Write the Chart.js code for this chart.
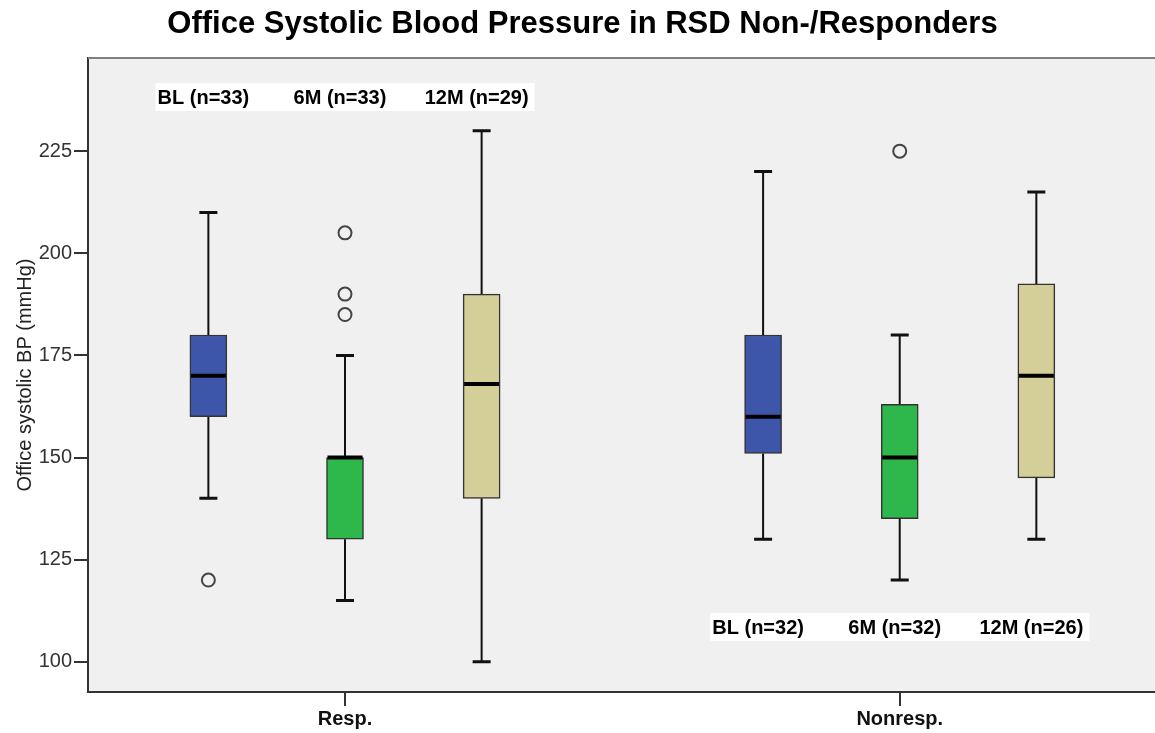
<!DOCTYPE html>
<html>
<head>
<meta charset="utf-8">
<script src="https://cdn.jsdelivr.net/npm/chart.js@4/dist/chart.umd.min.js"></script>
<style>
  body { margin: 0; background: #fff; }
  #wrap { width: 1155px; height: 733px; }
</style>
</head>
<body>
<div id="wrap"><canvas id="bpChart" width="1155" height="733"></canvas></div>
<script>
// groups on the x axis, time points inside each group
const groups = ["Resp.", "Nonresp."];
const times = ["BL", "6M", "12M"];
const groupN = [[33, 33, 29], [32, 32, 26]];

// box statistics, one row per group, one entry per time point
const lowWhisker = [[140, 115, 100], [130, 120, 130]];
const q1 = [[160, 130, 140], [151, 135, 145]];
const median = [[170, 150, 168], [160, 150, 170]];
const q3 = [[180, 150, 190], [180, 163, 192.5]];
const highWhisker = [[210, 175, 230], [220, 180, 215]];
const outliers = [[[120], [185, 190, 205], []], [[], [225], []]];

const yTicks = [100, 125, 150, 175, 200, 225];

const boxColors = ["#3e56aa", "#2eb84b", "#d4cf99"];
const timeOffset = [-0.2463, 0, 0.2463];
const FONT = "Arial, 'Liberation Sans', sans-serif";

function boxX(gi, ti) {
  return gi + timeOffset[ti];
}

const boxDatasets = times.map((t, ti) => ({
  type: "bar",
  label: t,
  data: groups.map((g, gi) => ({ x: boxX(gi, ti), y: [q1[gi][ti], q3[gi][ti]] })),
  backgroundColor: boxColors[ti],
  borderColor: "#333",
  borderWidth: 1.5,
  borderSkipped: false,
  barThickness: 37,
  grouped: false,
  order: 2,
}));

const outlierPoints = [];
groups.forEach((g, gi) => {
  times.forEach((t, ti) => {
    outliers[gi][ti].forEach(v => outlierPoints.push({ x: boxX(gi, ti), y: v }));
  });
});

const outlierDataset = {
  type: "scatter",
  label: "outliers",
  data: outlierPoints,
  pointRadius: 6.5,
  pointBorderWidth: 2,
  pointBorderColor: "#444",
  pointBackgroundColor: "rgba(0,0,0,0)",
  order: 1,
};

const boxPlotPlugin = {
  id: "boxPlot",
  beforeDraw(chart) {
    const { ctx, chartArea: a } = chart;
    ctx.save();
    ctx.fillStyle = "#f0f0f0";
    ctx.fillRect(a.left, a.top, a.right - a.left, a.bottom - a.top);
    ctx.restore();
  },
  beforeDatasetsDraw(chart) {
    const { ctx } = chart;
    const xs = chart.scales.x, ys = chart.scales.y;
    ctx.save();
    ctx.strokeStyle = "#111";
    groups.forEach((g, gi) => {
      times.forEach((t, ti) => {
        const px = xs.getPixelForValue(boxX(gi, ti));
        const yLo = ys.getPixelForValue(lowWhisker[gi][ti]);
        const yHi = ys.getPixelForValue(highWhisker[gi][ti]);
        const yQ1 = ys.getPixelForValue(q1[gi][ti]);
        const yQ3 = ys.getPixelForValue(q3[gi][ti]);
        ctx.lineWidth = 2;
        ctx.beginPath();
        ctx.moveTo(px, yHi); ctx.lineTo(px, yQ3);
        ctx.moveTo(px, yQ1); ctx.lineTo(px, yLo);
        ctx.stroke();
        ctx.lineWidth = 3;
        ctx.beginPath();
        ctx.moveTo(px - 9, yHi); ctx.lineTo(px + 9, yHi);
        ctx.moveTo(px - 9, yLo); ctx.lineTo(px + 9, yLo);
        ctx.stroke();
      });
    });
    ctx.restore();
  },
  afterDatasetsDraw(chart) {
    const { ctx, chartArea: a } = chart;
    const xs = chart.scales.x, ys = chart.scales.y;
    ctx.save();
    // medians
    ctx.strokeStyle = "#000";
    ctx.lineWidth = 4;
    groups.forEach((g, gi) => {
      times.forEach((t, ti) => {
        const px = xs.getPixelForValue(boxX(gi, ti));
        const py = ys.getPixelForValue(median[gi][ti]);
        ctx.beginPath();
        ctx.moveTo(px - 17.5, py); ctx.lineTo(px + 17.5, py);
        ctx.stroke();
      });
    });

    // top frame line
    ctx.strokeStyle = "#7f7f7f";
    ctx.lineWidth = 2;
    ctx.beginPath();
    ctx.moveTo(a.left, a.top); ctx.lineTo(a.right, a.top);
    ctx.stroke();

    // n= labels on white strips
    ctx.font = "bold 20px " + FONT;
    ctx.textAlign = "center";
    ctx.textBaseline = "middle";
    const stripY = [a.top + 39, a.bottom - 65];
    groups.forEach((g, gi) => {
      const items = times.map((t, ti) => {
        const text = `${t} (n=${groupN[gi][ti]})`;
        const cx = xs.getPixelForValue(boxX(gi, ti)) - 5;
        const w = ctx.measureText(text).width;
        return { text, cx, w };
      });
      const left = items[0].cx - items[0].w / 2 - 2;
      const right = items[2].cx + items[2].w / 2 + 6;
      ctx.fillStyle = "#fff";
      ctx.fillRect(left, stripY[gi] - 14, right - left, 28);
      ctx.fillStyle = "#000";
      items.forEach(it => ctx.fillText(it.text, it.cx, stripY[gi] + 1));
    });

    // chart title
    ctx.font = "bold 31px " + FONT;
    ctx.textBaseline = "alphabetic";
    ctx.fillText("Office Systolic Blood Pressure in RSD Non-/Responders", 582.5, 33);
    ctx.restore();
  },
};

new Chart(document.getElementById("bpChart"), {
  type: "bar",
  data: { datasets: [...boxDatasets, outlierDataset] },
  options: {
    responsive: false,
    animation: false,
    layout: { autoPadding: false, padding: { top: 58, left: 0, right: 0, bottom: 0 } },
    plugins: {
      legend: { display: false },
      tooltip: { enabled: false },
      title: { display: false },
    },
    scales: {
      x: {
        type: "linear",
        offset: false,
        min: -0.4633,
        max: 1.4602,
        afterBuildTicks: scale => { scale.ticks = groups.map((g, i) => ({ value: i })); },
        afterFit: scale => {
          scale.height = 41;
          scale.paddingLeft = 0;
          scale.paddingRight = 0;
        },
        grid: { offset: false, drawOnChartArea: false, color: "#333", lineWidth: 2, tickLength: 14 },
        border: { color: "#333", width: 2 },
        ticks: {
          padding: 1,
          color: "#111",
          font: { family: FONT, size: 20, weight: "bold" },
          callback: (v, i) => groups[i],
        },
      },
      y: {
        min: 92.6,
        max: 247.8,
        afterBuildTicks: scale => { scale.ticks = yTicks.map(v => ({ value: v })); },
        afterFit: scale => { scale.width = 88; },
        grid: { drawOnChartArea: false, color: "#333", lineWidth: 2, tickLength: 14 },
        border: { color: "#333", width: 2 },
        ticks: {
          padding: 2,
          color: "#333",
          font: { family: FONT, size: 20 },
        },
        title: {
          display: true,
          text: "Office systolic BP (mmHg)",
          color: "#222",
          font: { family: FONT, size: 20 },
          padding: { top: 13, bottom: 0 },
        },
      },
    },
  },
  plugins: [boxPlotPlugin],
});
</script>
</body>
</html>
